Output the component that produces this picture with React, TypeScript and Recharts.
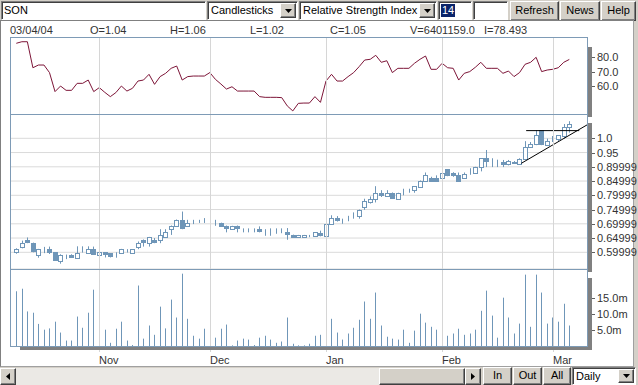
import React from "react";
import { Bar, CartesianGrid, ComposedChart, Line, ReferenceLine, XAxis, YAxis } from "recharts";

const BLUE = "#6f96b8";
const FRAME = "#7e9bb6";
const GRID = "#dadada";
const VGRID = "#d6d6d6";
const FACE = "#d4d0c8";
const RSI_COLOR = "#7d1538";
const FONT = "'Liberation Sans', Arial, sans-serif";

// one entry per trading day, 13 Oct 2003 .. 4 Mar 2004
const monthIdx = [15, 35, 56, 77, 97];
const monthNames = ["Nov", "Dec", "Jan", "Feb", "Mar"];

const openP = [
  0.600, 0.620, 0.644, 0.632, 0.589, 0.607, 0.612, 0.600, 0.568, 0.586,
  0.592, 0.581, 0.605, 0.599, 0.612, 0.592, 0.600, 0.596, 0.592, 0.599,
  0.605, 0.599, 0.620, 0.644, 0.632, 0.644, 0.644, 0.653, 0.681, 0.693,
  0.714, 0.691, 0.705, 0.707, 0.710, 0.708, 0.705, 0.703, 0.693, 0.681,
  0.693, 0.680, 0.678, 0.677, 0.681, 0.672, 0.672, 0.674, 0.675, 0.671,
  0.661, 0.653, 0.653, 0.657, 0.658, 0.669, 0.656, 0.700, 0.720, 0.710,
  0.718, 0.728, 0.728, 0.759, 0.775, 0.788, 0.809, 0.799, 0.809, 0.788,
  0.810, 0.815, 0.818, 0.829, 0.849, 0.859, 0.859, 0.859, 0.891, 0.880,
  0.870, 0.859, 0.880, 0.880, 0.899, 0.930, 0.915, 0.912, 0.918, 0.910,
  0.918, 0.909, 0.929, 0.970, 0.979, 1.028, 0.978, 0.995, 0.999, 1.008,
  1.040,
];
const highP = [
  0.614, 0.641, 0.652, 0.634, 0.612, 0.619, 0.620, 0.601, 0.593, 0.592,
  0.593, 0.621, 0.621, 0.621, 0.620, 0.601, 0.600, 0.597, 0.600, 0.612,
  0.611, 0.611, 0.638, 0.645, 0.654, 0.650, 0.681, 0.681, 0.694, 0.715,
  0.743, 0.714, 0.714, 0.714, 0.720, 0.717, 0.714, 0.704, 0.694, 0.693,
  0.694, 0.684, 0.684, 0.684, 0.691, 0.681, 0.684, 0.684, 0.684, 0.685,
  0.662, 0.661, 0.661, 0.661, 0.671, 0.676, 0.700, 0.730, 0.727, 0.718,
  0.728, 0.740, 0.750, 0.788, 0.796, 0.832, 0.818, 0.818, 0.810, 0.809,
  0.823, 0.823, 0.832, 0.852, 0.880, 0.865, 0.870, 0.898, 0.892, 0.881,
  0.880, 0.880, 0.895, 0.900, 0.930, 0.959, 0.930, 0.925, 0.924, 0.924,
  0.920, 0.930, 0.990, 0.987, 1.028, 1.029, 0.999, 1.008, 1.010, 1.050,
  1.060,
];
const lowP = [
  0.595, 0.614, 0.632, 0.600, 0.581, 0.597, 0.594, 0.572, 0.560, 0.576,
  0.581, 0.580, 0.599, 0.594, 0.591, 0.585, 0.582, 0.582, 0.581, 0.594,
  0.599, 0.598, 0.611, 0.620, 0.620, 0.632, 0.632, 0.653, 0.661, 0.690,
  0.681, 0.690, 0.699, 0.703, 0.703, 0.703, 0.693, 0.691, 0.670, 0.681,
  0.670, 0.670, 0.670, 0.670, 0.670, 0.658, 0.658, 0.665, 0.667, 0.644,
  0.653, 0.653, 0.653, 0.653, 0.657, 0.656, 0.655, 0.700, 0.708, 0.700,
  0.709, 0.718, 0.718, 0.749, 0.771, 0.775, 0.794, 0.799, 0.788, 0.788,
  0.800, 0.809, 0.809, 0.826, 0.849, 0.847, 0.847, 0.859, 0.867, 0.865,
  0.847, 0.859, 0.872, 0.880, 0.884, 0.899, 0.899, 0.899, 0.899, 0.905,
  0.910, 0.909, 0.929, 0.966, 0.976, 0.976, 0.976, 0.987, 0.990, 0.999,
  1.020,
];
const closeP = [
  0.610, 0.633, 0.635, 0.603, 0.610, 0.607, 0.602, 0.574, 0.592, 0.586,
  0.584, 0.599, 0.605, 0.611, 0.594, 0.600, 0.595, 0.587, 0.592, 0.611,
  0.605, 0.611, 0.632, 0.636, 0.653, 0.636, 0.661, 0.671, 0.693, 0.714,
  0.684, 0.703, 0.705, 0.707, 0.710, 0.708, 0.705, 0.693, 0.684, 0.693,
  0.684, 0.680, 0.678, 0.677, 0.673, 0.672, 0.672, 0.674, 0.675, 0.663,
  0.655, 0.661, 0.661, 0.657, 0.670, 0.660, 0.700, 0.719, 0.712, 0.710,
  0.718, 0.728, 0.749, 0.779, 0.788, 0.809, 0.802, 0.809, 0.792, 0.809,
  0.810, 0.815, 0.832, 0.849, 0.870, 0.851, 0.851, 0.880, 0.870, 0.873,
  0.851, 0.874, 0.880, 0.899, 0.930, 0.922, 0.915, 0.912, 0.910, 0.922,
  0.912, 0.929, 0.970, 0.979, 1.013, 0.979, 0.990, 0.995, 1.010, 1.040,
  1.050,
];
const rsi = [
  89.8, 90.9, 90.9, 72.7, 74.6, 74.6, 69.3, 56.0, 59.9, 56.9,
  56.9, 61.8, 61.8, 64.1, 56.0, 58.8, 55.5, 52.5, 55.3, 59.9,
  56.4, 58.3, 63.4, 64.1, 68.1, 61.1, 66.5, 68.8, 72.3, 73.9,
  64.1, 66.5, 66.9, 66.9, 66.9, 69.3, 64.6, 61.3, 57.8, 59.4,
  56.4, 56.4, 56.4, 56.4, 52.5, 52.0, 52.0, 52.0, 51.8, 46.0,
  42.5, 47.8, 48.0, 48.0, 52.5, 48.5, 63.4, 68.1, 63.4, 63.4,
  66.5, 69.3, 73.5, 78.1, 78.6, 81.4, 76.5, 77.6, 69.3, 72.3,
  72.3, 72.3, 75.8, 78.6, 80.9, 71.6, 71.6, 75.8, 72.7, 72.3,
  64.1, 68.8, 70.0, 73.0, 76.5, 72.3, 72.3, 72.3, 68.8, 70.4,
  66.5, 69.3, 75.1, 76.5, 80.0, 70.0, 71.1, 71.6, 72.7, 76.5,
  78.5,
];
// millions
const volume = [
  17.1, 17.9, 10.8, 10.4, 6.9, 5.1, 5.5, 7.6, 4.2, 1.7,
  1.7, 9.2, 5.7, 10.4, 17.6, 2.0, 5.1, 1.0, 5.4, 7.6,
  1.7, 0.3, 18.9, 2.3, 6.4, 3.5, 12.3, 5.5, 14.5, 8.9,
  22.6, 8.5, 3.2, 2.3, 5.4, 2.6, 2.6, 5.4, 6.7, 0.2,
  1.7, 2.3, 2.0, 0.3, 2.6, 3.2, 2.0, 1.0, 1.4, 8.9,
  0.7, 0.2, 0.2, 0.7, 3.2, 3.5, 5.1, 8.5, 4.2, 2.0,
  3.9, 5.7, 8.2, 13.9, 8.5, 16.7, 6.4, 2.9, 2.3, 2.0,
  5.1, 1.0, 4.8, 10.1, 7.3, 6.0, 5.1, 9.8, 3.2, 3.9,
  5.4, 3.5, 3.9, 5.1, 11.0, 17.3, 9.5, 2.6, 15.1, 8.9,
  3.9, 7.0, 22.3, 6.0, 22.3, 16.7, 7.0, 8.9, 7.6, 13.2,
  6.4,
];

const rsiTicks = [60, 70, 80];
const priceTicks = [1.0, 0.95, 0.9, 0.85, 0.8, 0.75, 0.7, 0.65, 0.6];
const priceLabels = ["1.0", "0.95", "0.89999", "0.84999", "0.79999", "0.74999", "0.69999", "0.64999", "0.59999"];
const volTicks = [5, 10, 15];

// drawn trend lines (bar index, price)
const trendFrom = [91.3, 0.912];
const trendTo = [103.2, 1.047];
const resistFrom = [92.2, 1.027];
const resistTo = [101.8, 1.027];

const headerItems = ["03/04/04", "O=1.04", "H=1.06", "L=1.02", "C=1.05", "V=6401159.0", "I=78.493"];
const headerX = [10, 90, 170, 250, 330, 410, 484];

const rows = openP.map((o, i) => ({
  i,
  open: o,
  high: highP[i],
  low: lowP[i],
  close: closeP[i],
  range: [lowP[i], highP[i]],
  rsi: rsi[i],
  vol: volume[i],
}));

const X_DOMAIN: [number, number] = [-0.96, 103.2];
const MARGIN = { top: 0, right: 0, bottom: 0, left: 11 };

function Candle(props: any) {
  const { x, y, width, height, payload } = props;
  const { open, close, high, low } = payload;
  const k = height / (high - low);
  const c = Math.round(x + width / 2);
  const yOf = (v: number) => y + (high - v) * k;
  const top = Math.round(yOf(Math.max(open, close)));
  const bot = Math.round(yOf(Math.min(open, close)));
  return (
    <g>
      <line x1={c + 0.5} x2={c + 0.5} y1={y} y2={y + height} stroke={BLUE} />
      {open === close ? null : close > open ? (
        <rect x={c - 1.5} y={top + 0.5} width={4} height={Math.max(bot - top, 1)} fill="#fff" stroke={BLUE} />
      ) : (
        <rect x={c - 1.5} y={top + 0.5} width={4} height={Math.max(bot - top, 1)} fill={BLUE} stroke={BLUE} />
      )}
    </g>
  );
}

function VolBar(props: any) {
  const { x, y, width, height } = props;
  return <rect x={Math.round(x + width / 2)} y={y} width={1} height={height} fill={BLUE} />;
}

function RightTick(props: any) {
  const { x, y, payload, fmt } = props;
  const yy = Math.round(y) + 0.5;
  return (
    <g>
      <line x1={x - 5} x2={x - 2} y1={yy} y2={yy} stroke="#606060" />
      <text x={x} y={y} dy={4} fontSize={11} fontFamily={FONT} fill="#333">
        {fmt(payload.value)}
      </text>
    </g>
  );
}

// vertical month gridline drawn from the axis tick up through the plot
function GridTick(props: any) {
  const { x, y, h } = props;
  return <rect x={Math.round(x)} y={y - h} width={1} height={h} fill={VGRID} />;
}

function MonthTick(props: any) {
  const { x, y, payload } = props;
  const xx = Math.round(x);
  return (
    <g>
      <rect x={xx} y={y - 83} width={1} height={83} fill={VGRID} />
      <text x={xx} y={y + 12} fontSize={11} fontFamily={FONT} fill="#333">
        {monthNames[monthIdx.indexOf(payload.value)]}
      </text>
    </g>
  );
}

const fmtRsi = (v: number) => v.toFixed(1);
const fmtPrice = (v: number) => priceLabels[priceTicks.findIndex((t) => Math.abs(t - v) < 1e-6)];
const fmtVol = (v: number) => `${v.toFixed(1)}m`;

const abs = (l: number, t: number, w: number, h: number): React.CSSProperties => ({
  position: "absolute",
  left: l,
  top: t,
  width: w,
  height: h,
  boxSizing: "border-box",
});

const sunken: React.CSSProperties = {
  background: "#fff",
  borderTop: "1px solid #808080",
  borderLeft: "1px solid #808080",
  borderRight: "1px solid #fff",
  borderBottom: "1px solid #fff",
  boxShadow: "inset 1px 1px 0 #404040",
};
const raised: React.CSSProperties = {
  background: FACE,
  borderTop: "1px solid #fff",
  borderLeft: "1px solid #fff",
  borderRight: "1px solid #404040",
  borderBottom: "1px solid #404040",
  boxShadow: "inset -1px -1px 0 #808080",
};
const txt: React.CSSProperties = { fontFamily: FONT, fontSize: 11, color: "#000", whiteSpace: "nowrap" };

function Arrow({ dir }: { dir: "down" | "left" | "right" }) {
  const pts = dir === "down" ? "0,0 7,0 3.5,4" : dir === "left" ? "4,0 4,7 0,3.5" : "0,0 0,7 4,3.5";
  const w = dir === "down" ? 7 : 4;
  const h = dir === "down" ? 4 : 7;
  return (
    <svg width={w} height={h} style={{ position: "absolute", left: "50%", top: "50%", marginLeft: -w / 2, marginTop: -h / 2 }}>
      <polygon points={pts} fill="#000" />
    </svg>
  );
}

function Button({ l, t, w, h, label }: { l: number; t: number; w: number; h: number; label: string }) {
  return (
    <div style={{ ...abs(l, t, w, h), ...raised, ...txt, textAlign: "center", lineHeight: `${h - 3}px` }}>{label}</div>
  );
}

function Select({ l, t, w, h, label }: { l: number; t: number; w: number; h: number; label: string }) {
  return (
    <div style={{ ...abs(l, t, w, h), ...sunken }}>
      <div style={{ ...txt, position: "absolute", left: 3, top: 2, lineHeight: "13px" }}>{label}</div>
      <div style={{ ...abs(w - 19, 1, 16, h - 4), ...raised }}>
        <Arrow dir="down" />
      </div>
    </div>
  );
}

// 1px-high axis (an axis of height 0 is not drawn) whose ticks draw the month gridlines
const gridAxis = (h: number) => (
  <XAxis
    dataKey="i"
    type="number"
    domain={X_DOMAIN}
    ticks={monthIdx}
    interval={0}
    allowDataOverflow
    height={1}
    axisLine={false}
    tickLine={false}
    tickSize={0}
    tickMargin={0}
    tick={(p: any) => <GridTick {...p} h={h} />}
  />
);

export default function App() {
  return (
    <div style={{ position: "absolute", left: 0, top: 0, width: 638, height: 385, background: FACE, overflow: "hidden" }}>
      {/* toolbar */}
      <div style={{ ...abs(1, 1, 205, 19), ...sunken }}>
        <div style={{ ...txt, position: "absolute", left: 2, top: 2, lineHeight: "13px" }}>SON</div>
      </div>
      <Select l={207} t={1} w={91} h={19} label="Candlesticks" />
      <Select l={299} t={1} w={138} h={19} label="Relative Strength Index" />
      <div style={{ ...abs(438, 1, 34, 19), ...sunken }}>
        <div style={{ ...txt, position: "absolute", left: 2, top: 2, lineHeight: "13px", background: "#0a246a", color: "#fff", padding: "0 1px" }}>14</div>
      </div>
      <div style={{ ...abs(473, 1, 35, 19), ...sunken }} />
      <Button l={510} t={1} w={49} h={20} label="Refresh" />
      <Button l={560} t={1} w={40} h={20} label="News" />
      <Button l={601} t={1} w={35} h={20} label="Help" />

      {/* chart surface */}
      <div style={{ ...abs(0, 20, 634, 347), background: "#fff", borderTop: "1px solid #808080", borderLeft: "1px solid #808080", borderRight: "1px solid #a0a0a0", borderBottom: "1px solid #a0a0a0" }} />
      {headerItems.map((s, k) => (
        <div key={s} style={{ ...txt, color: "#333", position: "absolute", left: headerX[k], top: 24, lineHeight: "13px" }}>{s}</div>
      ))}

      {/* RSI */}
      <div style={{ position: "absolute", left: 0, top: 37 }}>
        <ComposedChart width={638} height={78} data={rows} margin={MARGIN}>
          {gridAxis(77)}
          <YAxis orientation="right" width={51} domain={[40.35, 94.2]} ticks={rsiTicks} interval={0} allowDataOverflow axisLine={false} tickLine={false} tickSize={4} tickMargin={6} tick={(p: any) => <RightTick {...p} fmt={fmtRsi} />} />
          <Line dataKey="rsi" type="linear" stroke={RSI_COLOR} strokeWidth={1} dot={false} isAnimationActive={false} />
        </ComposedChart>
      </div>

      {/* price */}
      <div style={{ position: "absolute", left: 0, top: 114 }}>
        <ComposedChart width={638} height={156} data={rows} margin={MARGIN}>
          <CartesianGrid stroke={GRID} vertical={false} />
          {gridAxis(155)}
          <YAxis orientation="right" width={51} domain={[0.5414, 1.0853]} ticks={priceTicks} interval={0} allowDataOverflow axisLine={false} tickLine={false} tickSize={4} tickMargin={6} tick={(p: any) => <RightTick {...p} fmt={fmtPrice} />} />
          <Bar dataKey="range" barSize={5} shape={<Candle />} isAnimationActive={false} />
          <ReferenceLine segment={[{ x: resistFrom[0], y: resistFrom[1] }, { x: resistTo[0], y: resistTo[1] }]} stroke="#000" ifOverflow="visible" />
          <ReferenceLine segment={[{ x: trendFrom[0], y: trendFrom[1] }, { x: trendTo[0], y: trendTo[1] }]} stroke="#000" ifOverflow="visible" />
        </ComposedChart>
      </div>

      {/* volume */}
      <div style={{ position: "absolute", left: 0, top: 269 }}>
        <ComposedChart width={638} height={100} data={rows} margin={MARGIN}>
          <XAxis dataKey="i" type="number" domain={X_DOMAIN} ticks={monthIdx} interval={0} allowDataOverflow height={23} axisLine={false} tickLine={false} tickSize={6} tickMargin={0} tick={<MonthTick />} />
          <YAxis orientation="right" width={51} domain={[0, 24.06]} ticks={volTicks} interval={0} allowDataOverflow axisLine={false} tickLine={false} tickSize={4} tickMargin={6} tick={(p: any) => <RightTick {...p} fmt={fmtVol} />} />
          <Bar dataKey="vol" barSize={1} shape={<VolBar />} isAnimationActive={false} />
        </ComposedChart>
      </div>

      {/* panel frames and shadows */}
      <div style={{ ...abs(10, 37, 578, 78), border: `1px solid ${FRAME}`, pointerEvents: "none" }} />
      <div style={{ ...abs(10, 114, 578, 156), border: `1px solid ${FRAME}`, pointerEvents: "none" }} />
      <div style={{ ...abs(10, 269, 578, 78), border: `1px solid ${FRAME}`, pointerEvents: "none" }} />
      <div style={{ ...abs(588, 47, 4, 70), background: "#808080" }} />
      <div style={{ ...abs(588, 123, 4, 149), background: "#808080" }} />
      <div style={{ ...abs(588, 278, 4, 72), background: "#808080" }} />
      <div style={{ ...abs(20, 347, 572, 3), background: "#808080" }} />

      {/* bottom bar */}
      <div style={{ ...abs(0, 368, 16, 17), ...raised }}>
        <Arrow dir="left" />
      </div>
      <div style={{ ...abs(16, 368, 363, 17), background: "#ebe9e5" }} />
      <div style={{ ...abs(379, 368, 86, 17), ...raised }} />
      <div style={{ ...abs(465, 368, 16, 17), ...raised }}>
        <Arrow dir="right" />
      </div>
      <Button l={483} t={367} w={29} h={18} label="In" />
      <Button l={513} t={367} w={29} h={18} label="Out" />
      <Button l={543} t={367} w={28} h={18} label="All" />
      <Select l={572} t={367} w={64} h={18} label="Daily" />
    </div>
  );
}
